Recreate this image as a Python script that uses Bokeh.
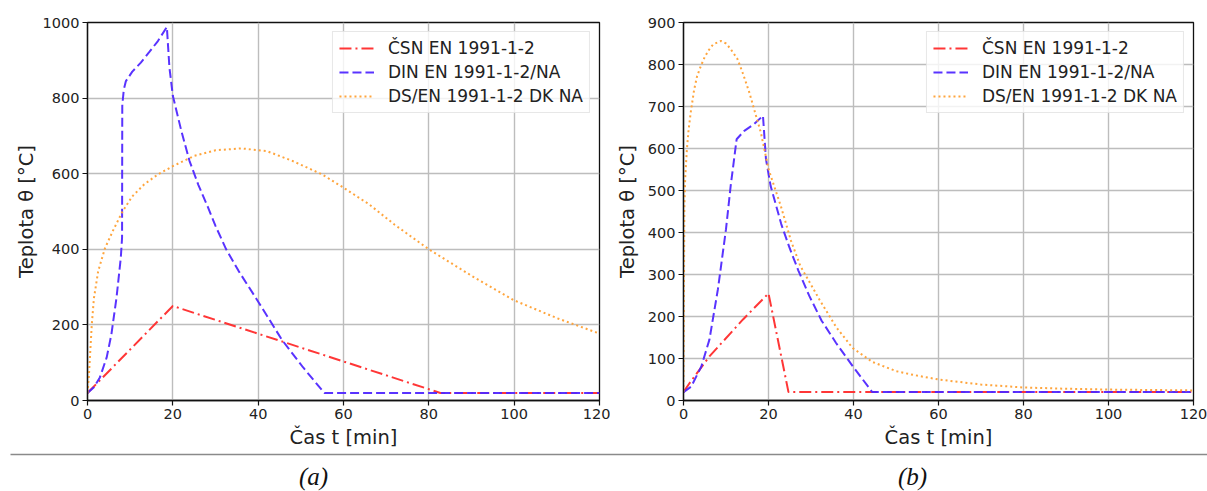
from bokeh.plotting import figure
from bokeh.models import Range1d, FixedTicker, Legend, LegendItem
from bokeh.layouts import column, row
from bokeh.core.properties import value
from bokeh.embed import file_html
from bokeh.resources import INLINE

# ---------------- data ----------------
t_ticks = [0, 20, 40, 60, 80, 100, 120]
ya_ticks = [0, 200, 400, 600, 800, 1000]
yb_ticks = [0, 100, 200, 300, 400, 500, 600, 700, 800, 900]
series_labels = ["ČSN EN 1991-1-2", "DIN EN 1991-1-2/NA", "DS/EN 1991-1-2 DK NA"]
x_label = "Čas t [min]"
y_label = "Teplota θ [°C]"
captions = ["(a)", "(b)"]

# panel (a)
csn_a_t = [0, 20, 82.7, 120]
csn_a_T = [20, 250, 20, 20]
din_a_t = [0, 1.5, 2.9, 4.5, 5.6, 6.8, 7.8, 8.1, 8.15, 8.5, 9.0, 10.5, 12.5, 14.5, 16.5, 18.6,
           19.2, 20, 22, 23.9, 26, 28.2, 30, 32.5, 35.4, 40.2, 45.6, 50.5, 55.5, 120]
din_a_T = [20, 35, 61, 114, 175, 272, 377, 430, 780, 822, 845, 870, 894, 922, 951, 988,
           881, 806, 713, 634, 570, 512, 462, 400, 343, 258, 160, 88, 20, 20]
dk_a_t = [0, 0.3, 0.6, 1.0, 1.5, 2.5, 4.1, 6, 8.2, 10.5, 13.3, 16.5, 20, 25, 30, 36, 42, 48,
          55, 60, 66, 72, 80, 90, 100, 110, 120]
dk_a_T = [20, 60, 120, 200, 270, 342, 403, 450, 500, 540, 572, 598, 620, 647, 662, 667, 660, 634,
          598, 563, 519, 465, 400, 330, 265, 218, 177]

# panel (b)
csn_b_t = [0, 1.4, 6.1, 14, 20, 24.7, 120]
csn_b_T = [20, 41, 105, 193, 255, 20, 20]
din_b_t = [0, 1.8, 4.2, 6.1, 8.1, 10, 11.1, 12.5, 14.3, 16.6, 18.7, 19.4, 20.5, 23, 24.9, 27,
           29.6, 32.5, 35.9, 39.8, 44.4, 120]
din_b_T = [20, 33, 81, 145, 265, 408, 511, 622, 642, 658, 678, 575, 511, 420, 365, 310,
           249, 190, 137, 82, 20, 20]
dk_b_t = [0, 0.1, 0.2, 0.4, 0.8, 1.2, 1.7, 2.5, 3.2, 4.1, 5, 6, 7, 8.8, 10, 11, 12.7, 14, 15.5,
          17, 18.2, 20, 22.9, 25.3, 27.5, 29.6, 32, 35.9, 39.8, 44.4, 50, 53.5, 60, 70, 80, 90,
          100, 110, 120]
dk_b_T = [20, 250, 460, 530, 598, 645, 686, 740, 772, 797, 818, 835, 848, 856, 850, 838, 813, 778,
          733, 680, 638, 551, 463, 380, 320, 283, 240, 175, 125, 92, 70, 62, 50, 38, 31, 28,
          26, 25, 24]

# ---------------- styles ----------------
FONT = "DejaVu Sans"
COLORS = ["#ff2b2b", "#5028ff", "#ffa033"]
DASHES = ["12 4 2 4", "9 4", "2 3"]
GRID = "#bdbdbd"
TXT = "#222222"


def panel(width, bl, br, ymax, yticks, ylab_standoff, data):
    p = figure(width=width, height=452, x_range=Range1d(0, 120), y_range=Range1d(0, ymax),
               toolbar_location=None, output_backend="svg",
               min_border_left=bl, min_border_right=br, min_border_top=22, min_border_bottom=52)
    p.xaxis.ticker = FixedTicker(ticks=t_ticks)
    p.yaxis.ticker = FixedTicker(ticks=yticks)
    p.xaxis.axis_label = x_label
    p.yaxis.axis_label = y_label
    for ax in (p.xaxis, p.yaxis):
        ax.axis_label_text_font = FONT
        ax.axis_label_text_font_style = "normal"
        ax.axis_label_text_font_size = "19.5px"
        ax.axis_label_text_color = TXT
        ax.major_label_text_font = FONT
        ax.major_label_text_font_size = "14.5px"
        ax.major_label_text_color = TXT
        ax.major_tick_out = 5
        ax.major_tick_in = 0
        ax.minor_tick_out = 0
        ax.minor_tick_in = 0
        ax.axis_line_color = "#111111"
        ax.axis_line_width = 1.3
        ax.major_tick_line_color = "#111111"
        ax.major_tick_line_width = 1.2
        ax.major_label_standoff = 3
    p.xaxis.axis_label_standoff = 4
    p.yaxis.axis_label_standoff = ylab_standoff
    p.outline_line_color = "#111111"
    p.outline_line_width = 1.3
    p.outline_line_alpha = 1
    for g in (p.xgrid, p.ygrid):
        g.grid_line_color = GRID
        g.grid_line_width = 1.4
    items = []
    for (tx, ty), lab, c, d in zip(data, series_labels, COLORS, DASHES):
        r = p.line(tx, ty, line_color=c, line_width=2, line_dash=d, line_alpha=0.95)
        items.append(LegendItem(label=lab, renderers=[r]))
    leg = Legend(items=items, location="top_right")
    leg.label_text_font = FONT
    leg.label_text_font_size = "17px"
    leg.label_text_color = TXT
    leg.glyph_width = 35
    leg.glyph_height = 20
    leg.label_height = 20
    leg.label_standoff = 14
    leg.spacing = 4
    leg.padding = 6
    leg.margin = 9
    leg.border_line_color = "#cfcfcf"
    leg.border_line_width = 1.2
    leg.background_fill_alpha = 0.8
    p.add_layout(leg)
    return p


pa = panel(610, 87, 11, 1000, ya_ticks, 2,
           [(csn_a_t, csn_a_T), (din_a_t, din_a_T), (dk_a_t, dk_a_T)])
pb = panel(597, 73, 14, 900, yb_ticks, 6,
           [(csn_b_t, csn_b_T), (din_b_t, din_b_T), (dk_b_t, dk_b_T)])

cap = figure(width=1207, height=39, x_range=Range1d(0, 1207), y_range=Range1d(491, 452),
             toolbar_location=None, output_backend="svg", x_axis_type=None, y_axis_type=None,
             min_border=0)
cap.outline_line_color = None
cap.xgrid.visible = False
cap.ygrid.visible = False
cap.segment(x0=[10], y0=[454], x1=[1207], y1=[454], line_color="#8a8a8a", line_width=1.3)
cap.text(x=[313, 912], y=[476, 476], text=captions, text_font=value("Liberation Serif"),
         text_font_style="italic", text_font_size="25px", text_align="center",
         text_baseline="middle", text_color="#111111")

layout = column(row(pa, pb), cap)
open("out.html", "w").write(file_html(layout, INLINE))
